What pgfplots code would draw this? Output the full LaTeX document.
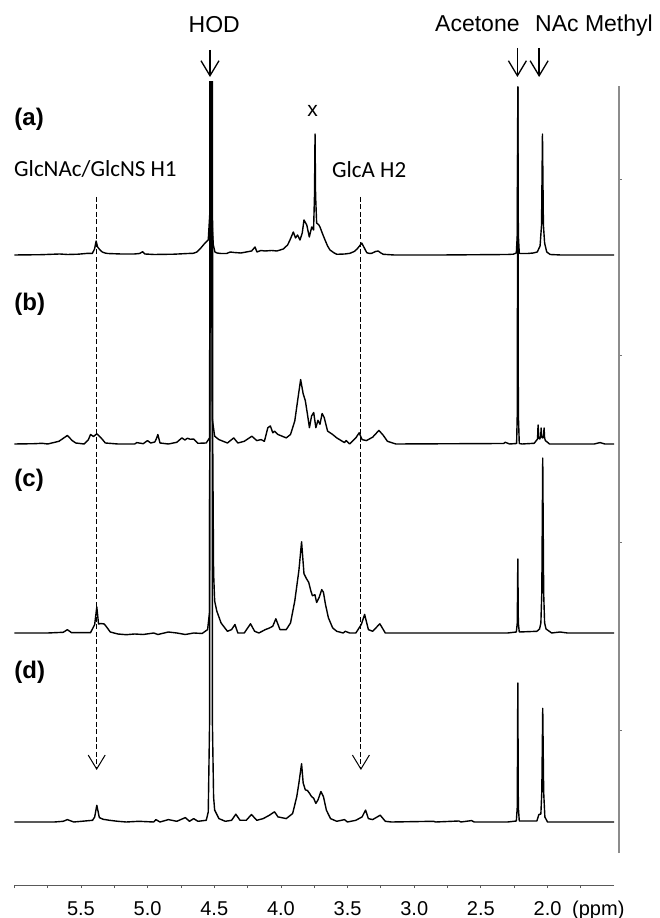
\documentclass[border=0pt]{standalone}
\usepackage{pgfplots}
\pgfplotsset{compat=1.18}
\usepackage{pgfplotstable}
\usetikzlibrary{arrows.meta}
\usepackage{fontspec}
\setmainfont{Liberation Sans}
\newfontfamily\calibri{Carlito}

% 1H NMR traces: ppm vs. height above each trace's own baseline
\pgfplotstableread{
ppm h
6.00 0
5.80 0.3
5.66 1
5.60 0.5
5.52 0.8
5.445 1.7
5.415 1.5
5.398 6
5.386 14
5.375 8
5.357 5
5.34 3
5.32 2
5.30 1.5
5.20 1
5.10 1
5.06 1.5
5.037 3.3
5.02 1
4.95 0.5
4.80 0.8
4.70 1.5
4.657 1.7
4.63 3
4.607 6
4.569 12
4.545 15
4.534 40
4.529 400
4.525 2000
4.521 400
4.516 30
4.507 10
4.495 3
4.48 2
4.45 1.5
4.407 1.5
4.38 3
4.35 2.5
4.30 2
4.26 3
4.22 4
4.194 8
4.18 3
4.15 4.5
4.12 4
4.07 4.5
4.03 4
3.982 6
3.95 10
3.932 15
3.907 23
3.89 17
3.875 20
3.857 15
3.84 22
3.827 35
3.806 30
3.787 18
3.769 28
3.755 25
3.748 60
3.744 121
3.740 60
3.732 32
3.715 30
3.707 28
3.69 22
3.669 15
3.65 9
3.632 5
3.60 2
3.581 0.7
3.52 1
3.482 1.7
3.45 3.5
3.431 5.7
3.41 9
3.394 12
3.374 7
3.356 2.3
3.335 1.5
3.319 1.7
3.29 3.5
3.27 4
3.25 2
3.232 0.7
3.15 0
2.80 0
2.50 0.3
2.30 0.5
2.257 0.8
2.234 2
2.227 20
2.223 168
2.219 20
2.212 2
2.206 1.5
2.15 1.5
2.106 2
2.077 3
2.056 9
2.045 30
2.038 121
2.031 30
2.022 12
2.006 3
1.98 0.5
1.90 0
1.50 0
}\specA

\pgfplotstableread{
ppm h
6.00 0
5.85 0.3
5.791 0.7
5.75 0
5.665 2.7
5.602 8.5
5.565 3.4
5.539 1
5.476 0
5.444 4.4
5.428 9.5
5.406 7.5
5.381 10.2
5.349 6.1
5.317 1
5.223 0
5.097 0
5.081 1.4
5.033 0.3
5.001 3.4
4.977 1
4.946 2
4.935 5
4.923 9.5
4.907 1
4.844 0
4.781 1.7
4.743 6.1
4.72 4
4.701 5.8
4.68 4.7
4.654 5
4.623 0.7
4.56 1
4.536 6
4.53 300
4.526 2000
4.522 300
4.515 25
4.497 7.8
4.465 4.4
4.401 1
4.354 6.1
4.323 1
4.275 2.7
4.218 7.8
4.181 3.4
4.149 4.4
4.124 2.7
4.098 16.3
4.079 18
4.061 11.2
4.048 12.9
4.022 9.5
3.991 7.8
3.96 6.1
3.928 9.5
3.896 23
3.871 46.8
3.852 64.4
3.833 50.2
3.817 43.4
3.801 29.8
3.786 16.3
3.770 28
3.754 31.5
3.738 16.3
3.722 23.7
3.707 19.7
3.691 30.5
3.675 26.4
3.650 12.9
3.612 9.5
3.581 6.1
3.548 3.4
3.523 1.4
3.511 3.4
3.485 0
3.438 6.1
3.413 11.2
3.391 4.4
3.359 3.4
3.312 6.8
3.265 13.6
3.233 8.8
3.201 2.7
3.138 0
2.33 0.5
2.317 1.7
2.285 0
2.232 0.5
2.227 30
2.223 357
2.219 30
2.212 0.5
2.191 0
2.10 0.7
2.075 5
2.071 19
2.065 6
2.058 5
2.051 8
2.048 16
2.044 7
2.036 6
2.030 8
2.026 16
2.022 6
2.016 3.4
1.985 0
1.65 0
1.606 1.4
1.57 0
1.50 0
}\specB

\pgfplotstableread{
ppm h
6.00 0
5.75 0
5.633 0.7
5.602 3.3
5.57 0.3
5.428 0.3
5.397 8.5
5.381 26
5.368 9
5.35 9.5
5.325 9
5.302 5
5.28 1
5.223 -1
5.16 -1.7
5.097 -1
5.033 -1.5
4.954 0
4.923 -1.5
4.844 1
4.781 0
4.717 -1.5
4.654 0
4.591 -0.5
4.55 3.4
4.536 20
4.53 400
4.525 2000
4.519 2000
4.512 200
4.505 60
4.497 32
4.481 22
4.449 10
4.401 1.7
4.37 3.4
4.345 8.5
4.323 0
4.275 0
4.228 9.2
4.197 1.7
4.165 0
4.117 3.4
4.086 5
4.061 6.8
4.038 14.2
4.007 3.4
3.96 3.4
3.928 10
3.896 32
3.865 62.7
3.845 91.2
3.827 59.3
3.808 54.2
3.792 50.8
3.776 42.4
3.764 37.3
3.745 38.3
3.732 30.5
3.713 35.6
3.694 43.4
3.681 40.7
3.666 28.8
3.644 15.3
3.612 5.1
3.581 1.7
3.533 0
3.517 1.7
3.485 0
3.438 0
3.397 8.5
3.372 18.6
3.344 3.4
3.312 1.7
3.258 9.2
3.217 0
2.30 0
2.234 1
2.227 10
2.223 74
2.219 10
2.212 1
2.08 1.7
2.06 4
2.05 10
2.043 40
2.036 175
2.029 40
2.022 10
2.011 4
1.969 0
1.906 1
1.85 0
1.50 0
}\specC

\pgfplotstableread{
ppm h
6.00 0
5.70 0
5.633 0.7
5.602 2.4
5.554 0
5.413 1.7
5.397 5
5.381 16.7
5.362 4.4
5.333 2.7
5.286 1.7
5.223 0.7
5.16 0
5.065 0.7
4.954 0
4.938 2.4
4.907 0
4.844 2.4
4.781 0.7
4.717 4.4
4.686 0.7
4.654 3.4
4.623 0.7
4.56 1.7
4.545 10
4.535 100
4.529 2000
4.521 2000
4.514 100
4.505 25
4.497 11.9
4.465 3.4
4.417 0.7
4.37 1.7
4.338 7.8
4.307 1.7
4.26 1.7
4.221 7.5
4.181 1.7
4.133 3.4
4.086 6.8
4.048 10.2
4.022 5.1
3.96 3.4
3.912 8.5
3.881 25.4
3.865 39
3.845 58.3
3.833 39
3.817 32.2
3.801 31.5
3.786 28.8
3.770 25.4
3.754 23.7
3.738 18.6
3.722 22
3.70 30.5
3.681 25.4
3.659 11.9
3.628 3.4
3.581 0.7
3.523 2.4
3.501 0
3.438 1.7
3.391 5.1
3.365 11.9
3.344 3.4
3.312 2.4
3.255 6.8
3.217 0.7
3.17 0
2.854 0.7
2.84 0
2.665 1
2.65 0
2.57 1.4
2.55 0
2.30 0
2.234 1
2.227 15
2.223 139
2.219 15
2.212 1
2.08 1
2.065 7.5
2.05 8
2.043 30
2.036 113.6
2.029 30
2.02 5
2.00 0
1.50 0
}\specD

\begin{document}
\begin{tikzpicture}
\begin{axis}[
  at={(0pt,0pt)}, anchor=south west,
  scale only axis, width=599.9pt, height=803pt,
  xmin=1.5, xmax=6.0, x dir=reverse,
  ymin=0, ymax=803,
  axis x line*=bottom, axis y line=none,
  x axis line style={color=black!65, line width=1pt},
  clip mode=individual,
  xtick={2,2.5,...,5.5},
  minor xtick={1.75,2.25,...,5.75,6},
  tick align=outside,
  major tick length=3pt, minor tick length=3pt,
  tick style={color=black!65, line width=0.8pt},
  /pgf/number format/assume math mode=true,
  /pgf/number format/fixed,
  /pgf/number format/fixed zerofill,
  /pgf/number format/precision=1,
  xticklabel style={anchor=base, yshift=-27pt, font=\fontsize{20}{21}\selectfont},
  extra x ticks={1.619},
  extra x tick labels={(ppm)},
  extra x tick style={tick style={draw=none}},
]
\addplot[black, line width=1.4pt, line join=round] table[x=ppm, y expr=\thisrow{h}+630] {\specA};
\addplot[black, line width=1.4pt, line join=round] table[x=ppm, y expr=\thisrow{h}+441] {\specB};
\addplot[black, line width=1.4pt, line join=round] table[x=ppm, y expr=\thisrow{h}+252] {\specC};
\addplot[black, line width=1.4pt, line join=round] table[x=ppm, y expr=\thisrow{h}+63] {\specD};

% peak labels and arrows
\node[anchor=base, inner sep=0, font=\fontsize{23}{24}\selectfont] at (axis cs:4.5,852) {HOD};
\node[anchor=base west, inner sep=0, font=\fontsize{23}{24}\selectfont] at (axis cs:2.844,853) {Acetone};
\node[anchor=base west, inner sep=0, font=\fontsize{23}{24}\selectfont] at (axis cs:2.094,853) {NAc Methyl};
\node[anchor=base, inner sep=0, font=\fontsize{21}{22}\selectfont] at (axis cs:3.763,768) {x};
\node[anchor=base west, inner sep=0, font=\calibri\fontsize{23}{24}\selectfont] at (axis cs:6.002,708) {GlcNAc/GlcNS H1};
\node[anchor=base west, inner sep=0, font=\calibri\fontsize{23}{24}\selectfont] at (axis cs:3.617,707) {GlcA H2};
\node[anchor=west, inner sep=0, font=\bfseries\fontsize{24}{26}\selectfont] at (axis cs:6.0,766) {(a)};
\node[anchor=west, inner sep=0, font=\bfseries\fontsize{24}{26}\selectfont] at (axis cs:6.0,581) {(b)};
\node[anchor=west, inner sep=0, font=\bfseries\fontsize{24}{26}\selectfont] at (axis cs:6.0,405) {(c)};
\node[anchor=west, inner sep=0, font=\bfseries\fontsize{24}{26}\selectfont] at (axis cs:6.0,213) {(d)};

\draw[line width=1.3pt, -{Straight Barb[length=15pt, width=18pt]}] (axis cs:4.532,835) -- (axis cs:4.532,808);
\draw[line width=1.3pt, -{Straight Barb[length=15pt, width=18pt]}] (axis cs:2.226,837) -- (axis cs:2.226,808);
\draw[line width=1.3pt, -{Straight Barb[length=15pt, width=18pt]}] (axis cs:2.063,837) -- (axis cs:2.063,808);

\draw[line width=1pt, dash pattern=on 5pt off 2.5pt, -{Straight Barb[length=14pt, width=17pt]}] (axis cs:5.382,688) -- (axis cs:5.382,115);
\draw[line width=1pt, dash pattern=on 5pt off 2.5pt, -{Straight Barb[length=14pt, width=17pt]}] (axis cs:3.40,688) -- (axis cs:3.40,115);
\end{axis}

% right-hand intensity spine
\begin{axis}[
  at={(604.7pt,32pt)}, anchor=south west,
  scale only axis, width=10pt, height=767pt,
  xmin=0, xmax=1, ymin=0, ymax=767,
  axis x line=none, axis y line*=left,
  y axis line style={color=black!45, line width=1.3pt},
  ytick={123,311,498,674}, yticklabels={},
  tick align=inside, major tick length=3pt,
  tick style={color=black!55, line width=0.8pt},
]
\end{axis}

\pgfresetboundingbox
\path (-14.3pt,-33pt) rectangle (644.7pt,885pt);
\end{tikzpicture}
\end{document}
